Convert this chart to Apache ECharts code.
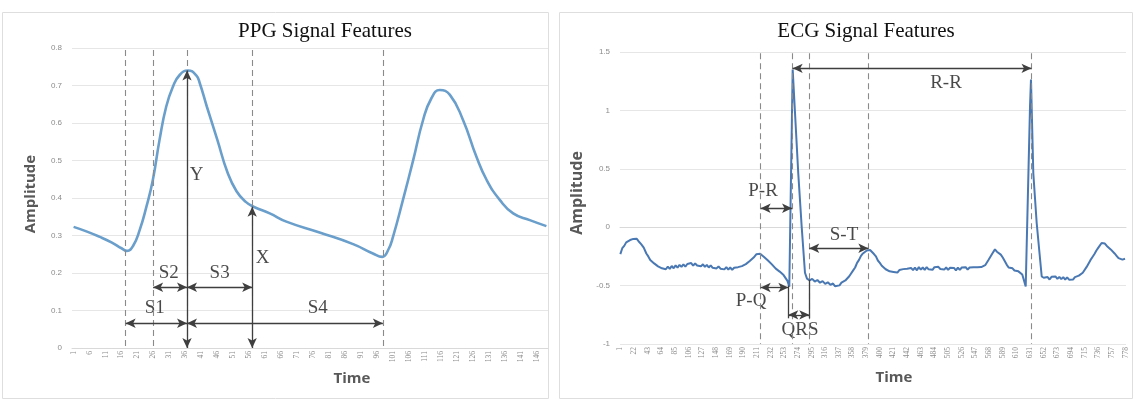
<!DOCTYPE html>
<html><head><meta charset="utf-8">
<script src="https://cdn.jsdelivr.net/npm/echarts@6/dist/echarts.min.js"></script>
<style>html,body{margin:0;padding:0;background:#fff}#c{width:1145px;height:402px}</style>
</head><body><div id="c"></div>
<script>
// ---------- data ----------
const ppgCategories = Array.from({length: 149}, (_, i) => String(i + 1));
const ecgCategories = Array.from({length: 778}, (_, i) => String(i + 1));

const ppgSignal = [
  [1,0.323],[5,0.311],[9,0.297],[13,0.281],[16,0.266],[17.7,0.259],[19.6,0.272],[21.7,0.315],
  [23.8,0.377],[25.8,0.448],[27.9,0.555],[30,0.644],[32.1,0.697],[34.2,0.728],[36.8,0.740],
  [39.4,0.727],[40.5,0.706],[42.7,0.644],[46,0.555],[49.1,0.47],[52,0.418],[55,0.389],[57.5,0.376],
  [62.4,0.359],[67.6,0.337],[78,0.308],[88.5,0.277],[94.7,0.252],[97.6,0.243],[99.5,0.262],
  [101,0.297],[104.1,0.395],[107.3,0.501],[110.4,0.608],[113,0.666],[115.6,0.688],[118.8,0.675],
  [122.9,0.608],[127.1,0.51],[130.3,0.448],[134.4,0.395],[138.6,0.359],[143.8,0.341],[149,0.325]
];

const ecgSignal = [
  [1,-0.23],[4,-0.18],[7,-0.16],[10,-0.13],[13,-0.125],[16,-0.11],[19,-0.115],[21,-0.10],[23,-0.112],
  [26,-0.098],[29,-0.12],[33,-0.145],[37,-0.175],[41,-0.225],[44,-0.25],[47,-0.28],[50,-0.29],[53,-0.31],
  [56,-0.318],[59,-0.335],[62,-0.325],[65,-0.352],[68,-0.335],[71,-0.36],[74,-0.338],[77,-0.357],[80,-0.332],
  [83,-0.352],[86,-0.327],[89,-0.347],[92,-0.322],[95,-0.34],[98,-0.318],[101,-0.337],[104,-0.315],
  [107,-0.332],[110,-0.307],[113,-0.33],[116,-0.309],[119,-0.328],[122,-0.312],[125,-0.335],[128,-0.317],
  [131,-0.34],[134,-0.322],[137,-0.345],[140,-0.327],[143,-0.348],[146,-0.332],[149,-0.353],[152,-0.335],
  [155,-0.355],[158,-0.339],[161,-0.361],[164,-0.342],[167,-0.363],[170,-0.345],[173,-0.365],[176,-0.347],
  [179,-0.363],[182,-0.342],[185,-0.352],[188,-0.333],[191,-0.34],[194,-0.316],[197,-0.31],[200,-0.29],
  [203,-0.285],[206,-0.26],[208,-0.262],[210,-0.232],[213,-0.215],[216,-0.228],[219,-0.238],[222,-0.255],
  [225,-0.262],[228,-0.285],[231,-0.29],[234,-0.318],[237,-0.33],[240,-0.355],[243,-0.36],[246,-0.38],
  [249,-0.385],[252,-0.41],[255,-0.425],[258,-0.46],[260.8,-0.51],[266,1.35],[274.6,0.46],[279.9,0.0],
  [284.9,-0.39],[288,-0.44],[292,-0.455],[296,-0.442],[300,-0.465],[304,-0.452],[308,-0.475],[312,-0.462],
  [316,-0.485],[320,-0.472],[324,-0.493],[328,-0.482],[331,-0.505],[334,-0.488],[338,-0.498],[341,-0.475],
  [344,-0.482],[347,-0.456],[350,-0.45],[353,-0.42],[356,-0.405],[359,-0.37],[362,-0.345],[365,-0.305],
  [368,-0.28],[371,-0.245],[374,-0.225],[377,-0.21],[380,-0.2],[382,-0.185],[385,-0.195],[388,-0.205],
  [391,-0.23],[394,-0.25],[397,-0.285],[400,-0.305],[403,-0.33],[406,-0.345],[409,-0.36],[412,-0.365],
  [415,-0.378],[418,-0.365],[421,-0.383],[424,-0.369],[427,-0.388],[430,-0.367],[433,-0.381],[436,-0.359],
  [439,-0.375],[442,-0.355],[445,-0.371],[448,-0.349],[451,-0.368],[454,-0.347],[457,-0.369],[460,-0.342],
  [463,-0.363],[466,-0.345],[469,-0.365],[472,-0.342],[475,-0.361],[478,-0.344],[481,-0.365],[484,-0.342],
  [487,-0.359],[490,-0.339],[493,-0.358],[496,-0.342],[499,-0.363],[502,-0.345],[505,-0.365],[508,-0.347],
  [511,-0.363],[514,-0.349],[517,-0.369],[520,-0.347],[523,-0.365],[526,-0.345],[529,-0.359],[532,-0.342],
  [535,-0.363],[538,-0.345],[541,-0.361],[544,-0.342],[547,-0.358],[550,-0.342],[553,-0.359],[556,-0.341],
  [559,-0.35],[562,-0.325],[565,-0.315],[567,-0.28],[570,-0.265],[573,-0.225],[575,-0.21],[577,-0.19],
  [580,-0.21],[583,-0.215],[586,-0.235],[589,-0.26],[592,-0.275],[595,-0.32],[598,-0.345],[601,-0.362],
  [604,-0.352],[607,-0.371],[610,-0.357],[613,-0.378],[616,-0.385],[619,-0.405],[622,-0.41],
  [624.3,-0.508],[630.9,1.03],[632.4,1.265],[636,0.46],[641.2,0.034],[648.9,-0.422],[652,-0.433],
  [655,-0.445],[658,-0.427],[661,-0.448],[664,-0.425],[667,-0.441],[670,-0.422],[673,-0.443],[676,-0.425],
  [679,-0.445],[682,-0.427],[685,-0.448],[688,-0.429],[691,-0.449],[694,-0.432],[697,-0.448],[700,-0.427],
  [703,-0.438],[706,-0.415],[709,-0.41],[712,-0.39],[715,-0.375],[718,-0.34],[721,-0.31],[724,-0.28],
  [727,-0.255],[730,-0.23],[733,-0.2],[736,-0.175],[738,-0.16],[741,-0.135],[744,-0.15],[746,-0.14],
  [749,-0.16],[752,-0.165],[755,-0.19],[758,-0.205],[761,-0.225],[764,-0.245],[767,-0.265],[770,-0.255],
  [773,-0.278],[777,-0.27]
];

// annotation guides (category positions) and arrows [x1, y1, x2, y2]
const ppgGuides = [17.3, 25.9, 36.5, 56.9, 97.8];
const ppgArrows = [
  [17.3,0.066,36.5,0.066],[36.5,0.066,97.8,0.066],
  [25.9,0.162,36.5,0.162],[36.5,0.162,56.9,0.162],
  [36.5,0,36.5,0.74],[56.9,0,56.9,0.377]
];
const ppgLabels = [['Y',39.5,0.461],['X',60.2,0.24],['S2',30.8,0.2],['S3',46.7,0.2],['S1',26.4,0.107],['S4',77.4,0.107]];

const ecgGuides = [216.8, 266, 291.5, 382.3, 633.2];
const ecgArrows = [
  [266,1.36,633.2,1.36],[216.8,0.162,265,0.162],[291.5,-0.18,382.3,-0.18],
  [216.8,-0.516,259.3,-0.516],[259.3,-0.75,291.5,-0.75]
];
const ecgBrackets = [[259.3,-0.5,259.3,-0.78],[291.5,-0.45,291.5,-0.78]];
const ecgLabels = [['R-R',501.7,1.233],['P-R',220.4,0.31],['S-T',344.9,-0.066],['P-Q',202,-0.63],['QRS',277.3,-0.884]];

// ---------- chart ----------
const chart = echarts.init(document.getElementById('c'), null, {renderer: 'canvas'});
const GRID = '#e6e6e6', TICK = '#8c8c8c', ARROW = '#3f3f3f', GUIDE = '#8a8a8a';
const serif = 'Liberation Serif';

function catAxis(gridIndex, cats, interval) {
  return {
    type: 'category', gridIndex, data: cats, boundaryGap: true,
    axisLine: {show: true, lineStyle: {color: '#d9d9d9', width: 1}},
    axisTick: {show: false},
    axisLabel: {interval, rotate: 90, fontSize: 7.5, color: TICK, margin: 3, fontFamily: serif}
  };
}
function hiddenX(gridIndex, max) {
  return {type: 'value', gridIndex, min: 0.5, max: max + 0.5, show: false};
}
function valAxis(gridIndex, min, max, interval) {
  return {
    type: 'value', gridIndex, min, max, interval,
    axisLine: {show: false}, axisTick: {show: false},
    splitLine: {lineStyle: {color: GRID, width: 1}},
    axisLabel: {fontSize: 8, color: TICK, margin: 10}
  };
}
const guideLines = (xs, y0, y1) => xs.map(x => [{coord: [x, y0]}, {coord: [x, y1]}]);
const arrowLines = a => a.map(d => [{coord: [d[0], d[1]]}, {coord: [d[2], d[3]]}]);
const labelData = l => l.map(d => ({name: d[0], value: [d[1], d[2]]}));

function markSeries(xi, yi, lines, symbol, dashed) {
  return {
    type: 'line', xAxisIndex: xi, yAxisIndex: yi, data: [], silent: true,
    markLine: {
      silent: true, animation: false, symbol: symbol, symbolSize: [7, 10],
      label: {show: false},
      lineStyle: {color: dashed ? GUIDE : ARROW, width: dashed ? 1.1 : 1.3, type: dashed ? [6, 4] : 'solid'},
      emphasis: {disabled: true},
      data: lines
    }
  };
}
function labelSeries(xi, yi, data) {
  return {
    type: 'scatter', xAxisIndex: xi, yAxisIndex: yi, symbolSize: 1, silent: true,
    itemStyle: {color: 'rgba(0,0,0,0)'},
    label: {show: true, position: 'inside', formatter: '{b}', fontFamily: serif, fontSize: 19, color: '#1a1a1a'},
    data
  };
}

const option = {
  animation: false,
  backgroundColor: '#fff',
  grid: [
    {left: 72, right: 1145 - 548, top: 48, bottom: 402 - 348},
    {left: 620, right: 1145 - 1126, top: 52, bottom: 402 - 344}
  ],
  xAxis: [
    catAxis(0, ppgCategories, 4), hiddenX(0, ppgCategories.length),
    catAxis(1, ecgCategories, 20), hiddenX(1, ecgCategories.length)
  ],
  yAxis: [valAxis(0, 0, 0.8, 0.1), valAxis(1, -1, 1.5, 0.5)],
  graphic: [
    {type: 'rect', shape: {x: 2.5, y: 12.5, width: 546, height: 386}, style: {fill: 'none', stroke: '#dedede', lineWidth: 1}, silent: true},
    {type: 'rect', shape: {x: 559.5, y: 12.5, width: 573, height: 386}, style: {fill: 'none', stroke: '#dedede', lineWidth: 1}, silent: true},
    {type: 'text', x: 325, y: 31, style: {text: 'PPG Signal Features', font: '21px "Liberation Serif"', fill: '#111', textAlign: 'center', textVerticalAlign: 'middle'}},
    {type: 'text', x: 866, y: 31, style: {text: 'ECG Signal Features', font: '21px "Liberation Serif"', fill: '#111', textAlign: 'center', textVerticalAlign: 'middle'}},
    {type: 'text', x: 31, y: 194, rotation: Math.PI / 2, style: {text: 'Amplitude', font: 'bold 15px "Open Sans"', fill: '#595959', textAlign: 'center', textVerticalAlign: 'middle'}},
    {type: 'text', x: 577, y: 193, rotation: Math.PI / 2, style: {text: 'Amplitude', font: 'bold 16px "Open Sans"', fill: '#595959', textAlign: 'center', textVerticalAlign: 'middle'}},
    {type: 'text', x: 352, y: 379, style: {text: 'Time', font: 'bold 15px "Open Sans"', fill: '#595959', textAlign: 'center', textVerticalAlign: 'middle'}},
    {type: 'text', x: 894, y: 378, style: {text: 'Time', font: 'bold 15px "Open Sans"', fill: '#595959', textAlign: 'center', textVerticalAlign: 'middle'}}
  ],
  series: [
    {
      type: 'line', xAxisIndex: 1, yAxisIndex: 0, data: ppgSignal, smooth: 0.5,
      showSymbol: false, lineStyle: {color: '#6a9ecb', width: 2.6}, silent: true, z: 2
    },
    markSeries(1, 0, guideLines(ppgGuides, 0.795, 0), 'none', true),
    markSeries(1, 0, arrowLines(ppgArrows), ['arrow', 'arrow'], false),
    labelSeries(1, 0, labelData(ppgLabels)),
    {
      type: 'line', xAxisIndex: 3, yAxisIndex: 1, data: ecgSignal, smooth: false,
      showSymbol: false, lineStyle: {color: '#4a78b2', width: 2}, silent: true, z: 2
    },
    markSeries(3, 1, guideLines(ecgGuides, 1.49, -1), 'none', true),
    markSeries(3, 1, arrowLines(ecgArrows), ['arrow', 'arrow'], false),
    markSeries(3, 1, arrowLines(ecgBrackets), 'none', false),
    labelSeries(3, 1, labelData(ecgLabels))
  ]
};
chart.setOption(option);
</script></body></html>
